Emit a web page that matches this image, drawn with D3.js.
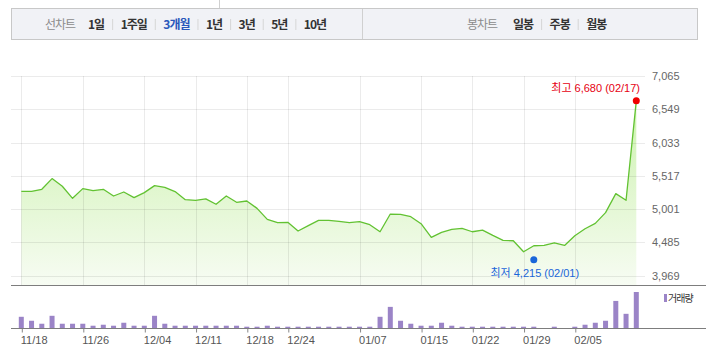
<!DOCTYPE html>
<html>
<head>
<meta charset="utf-8">
<script src="https://cdn.jsdelivr.net/npm/d3@7/dist/d3.min.js"></script>
<style>
  body { margin: 0; background: #fff; }
  svg { display: block; font-family: "Liberation Sans", Arial, "Noto Sans CJK KR", sans-serif; }
</style>
</head>
<body>
<svg id="chart" width="706" height="353"></svg>
<script>
// closing prices, one per trading day (3 months)
const prices = [
  5276, 5276, 5307, 5473, 5354, 5167, 5317, 5286, 5307, 5203,
  5265, 5177, 5255, 5364, 5338, 5271, 5146, 5136, 5157, 5074,
  5203, 5105, 5125, 5011, 4840, 4788, 4794, 4659, 4742, 4825,
  4825, 4809, 4788, 4804, 4757, 4648, 4923, 4918, 4882, 4773,
  4560, 4638, 4685, 4700, 4648, 4674, 4591, 4514, 4508, 4337,
  4431, 4436, 4477, 4436, 4586, 4695, 4778, 4944, 5240, 5136,
  6680
];
// traded volume (thousand shares)
const volumes = [
  1130, 730, 430, 1230, 430, 430, 430, 230, 330, 230,
  530, 230, 230, 1230, 430, 230, 230, 230, 230, 230,
  230, 230, 130, 130, 230, 130, 130, 130, 130, 130,
  130, 130, 130, 130, 130, 1130, 2130, 730, 430, 230,
  230, 530, 230, 130, 130, 130, 130, 130, 130, 130,
  130, 0, 130, 0, 130, 330, 530, 730, 2730, 1430,
  3630
];
const tickIdx = [0, 6, 12, 17, 22, 26, 33, 39, 44, 49, 54];
const tickLabels = ["11/18", "11/26", "12/04", "12/11", "12/18", "12/24", "01/07", "01/15", "01/22", "01/29", "02/05"];
const yTicks = [3969, 4485, 5001, 5517, 6033, 6549, 7065];
const high = { idx: 60, value: 6680, date: "02/17" };
const low = { idx: 50, value: 4215, date: "02/01" };
const lineMenu = ["1일", "1주일", "3개월", "1년", "3년", "5년", "10년"];
const candleMenu = ["일봉", "주봉", "월봉"];
const activeMenu = "3개월";

const svg = d3.select("#chart");

// ---- top menu bar ----
svg.append("line").attr("x1", 219.5).attr("x2", 219.5).attr("y1", 0).attr("y2", 8).attr("stroke", "#d0d0d0");
svg.append("rect")
  .attr("x", 11.5).attr("y", 8.5).attr("width", 686).attr("height", 31)
  .attr("fill", "#f1f2f6").attr("stroke", "#c8c8c8");
svg.append("line").attr("x1", 362.5).attr("x2", 362.5).attr("y1", 9).attr("y2", 39).attr("stroke", "#d0d0d0");

function menu(title, titleX, items, startX) {
  const g = svg.append("g").style("font-family", '"Noto Sans CJK KR", sans-serif').style("font-size", "12px");
  g.append("text").attr("x", titleX).attr("y", 28.5)
    .attr("fill", "#8c8c8c").attr("letter-spacing", "-1px").text(title);
  let x = startX;
  items.forEach((d, i) => {
    const t = g.append("text").attr("x", x).attr("y", 28.5)
      .attr("font-weight", "bold").attr("letter-spacing", "-1px")
      .attr("fill", d === activeMenu ? "#2b58bb" : "#333").text(d);
    const w = t.node().getComputedTextLength();
    if (i < items.length - 1) {
      g.append("line").attr("x1", x + w + 8.5).attr("x2", x + w + 8.5)
        .attr("y1", 19).attr("y2", 30).attr("stroke", "#d6d6d6");
    }
    x += w + 16.5;
  });
}
menu("선차트", 45, lineMenu, 88);
menu("봉차트", 467, candleMenu, 513);

// ---- price pane ----
const x = d3.scaleLinear().domain([0, prices.length - 1]).range([21.3, 636.3]);
const y = d3.scaleLinear().domain([3969, 7065]).range([275.5, 76]);
const paneBottom = 285;

const defs = svg.append("defs");
const grad = defs.append("linearGradient").attr("id", "areaGrad")
  .attr("gradientUnits", "userSpaceOnUse").attr("x1", 0).attr("x2", 0).attr("y1", 76).attr("y2", paneBottom);
grad.append("stop").attr("offset", 0).attr("stop-color", "#c6f0a4");
grad.append("stop").attr("offset", 1).attr("stop-color", "#f7fcf3");

const area = d3.area().x((d, i) => x(i)).y0(paneBottom).y1(d => y(d));
svg.append("path").datum(prices).attr("d", area).attr("fill", "url(#areaGrad)");

// grid
svg.append("g").selectAll("line").data(yTicks).join("line")
  .attr("x1", 11).attr("x2", 645)
  .attr("y1", d => Math.round(y(d)) + 0.5).attr("y2", d => Math.round(y(d)) + 0.5)
  .attr("stroke", "rgba(0,0,0,0.08)");
svg.append("g").selectAll("line").data(tickIdx).join("line")
  .attr("x1", d => Math.round(x(d)) + 0.5).attr("x2", d => Math.round(x(d)) + 0.5)
  .attr("y1", 76).attr("y2", paneBottom)
  .attr("stroke", "rgba(0,0,0,0.08)");

// y axis labels on the right
const yAxis = svg.append("g").attr("transform", "translate(650,0)")
  .call(d3.axisRight(y).tickValues(yTicks).tickSize(0).tickFormat(d3.format(",")));
yAxis.select(".domain").remove();
yAxis.selectAll("text").attr("x", 2).attr("fill", "#666").style("font-size", "11px")
  .style("font-family", '"Liberation Sans", Arial, sans-serif');

// price line
const line = d3.line().x((d, i) => x(i)).y(d => y(d));
svg.append("path").datum(prices).attr("d", line)
  .attr("fill", "none").attr("stroke", "#62c232").attr("stroke-width", 1.3).attr("stroke-linejoin", "round");

// high / low markers
svg.append("circle").attr("cx", x(high.idx)).attr("cy", y(high.value)).attr("r", 3.5).attr("fill", "#f00000");
svg.append("text").attr("x", 640).attr("y", 91.5).attr("text-anchor", "end")
  .attr("fill", "#e60012").style("font-size", "11px")
  .text(`최고 ${d3.format(",")(high.value)} (${high.date})`);
svg.append("circle").attr("cx", x(low.idx)).attr("cy", y(low.value)).attr("r", 3.5).attr("fill", "#1a66d9");
svg.append("text").attr("x", x(low.idx) + 1).attr("y", 276.5).attr("text-anchor", "middle")
  .attr("fill", "#1a66d9").style("font-size", "11px")
  .text(`최저 ${d3.format(",")(low.value)} (${low.date})`);

// ---- volume pane ----
const volBase = 328;
const yv = d3.scaleLinear().domain([0, d3.max(volumes)]).range([volBase, 292]);

svg.append("g").selectAll("rect").data(volumes).join("rect")
  .attr("x", (d, i) => x(i) - 2.5).attr("width", 5)
  .attr("y", d => yv(d)).attr("height", d => volBase - yv(d))
  .attr("fill", "#9b84c7");

// pane separators
svg.append("line").attr("x1", 11).attr("x2", 706).attr("y1", paneBottom + 0.5).attr("y2", paneBottom + 0.5).attr("stroke", "#7d7d7d");

const xAxis = svg.append("g").attr("transform", `translate(0,${volBase + 0.5})`)
  .call(d3.axisBottom(x).tickValues(tickIdx).tickSize(4).tickFormat((d, i) => tickLabels[i]));
xAxis.select(".domain").remove();
xAxis.selectAll(".tick line").attr("stroke", "#888").attr("transform", "translate(0.5,0)");
xAxis.selectAll(".tick text").attr("text-anchor", "start").attr("x", -1).attr("y", 8)
  .attr("fill", "#555").style("font-size", "11px").style("font-family", '"Liberation Sans", Arial, sans-serif');
svg.append("line").attr("x1", 11).attr("x2", 706).attr("y1", volBase + 0.5).attr("y2", volBase + 0.5).attr("stroke", "#7d7d7d");

// legend
svg.append("rect").attr("x", 664).attr("y", 294).attr("width", 3).attr("height", 8).attr("fill", "#9b84c7");
svg.append("text").attr("x", 668).attr("y", 302).attr("fill", "#333")
  .style("font-size", "10px").attr("letter-spacing", "-1px").text("거래량");
</script>
</body>
</html>
